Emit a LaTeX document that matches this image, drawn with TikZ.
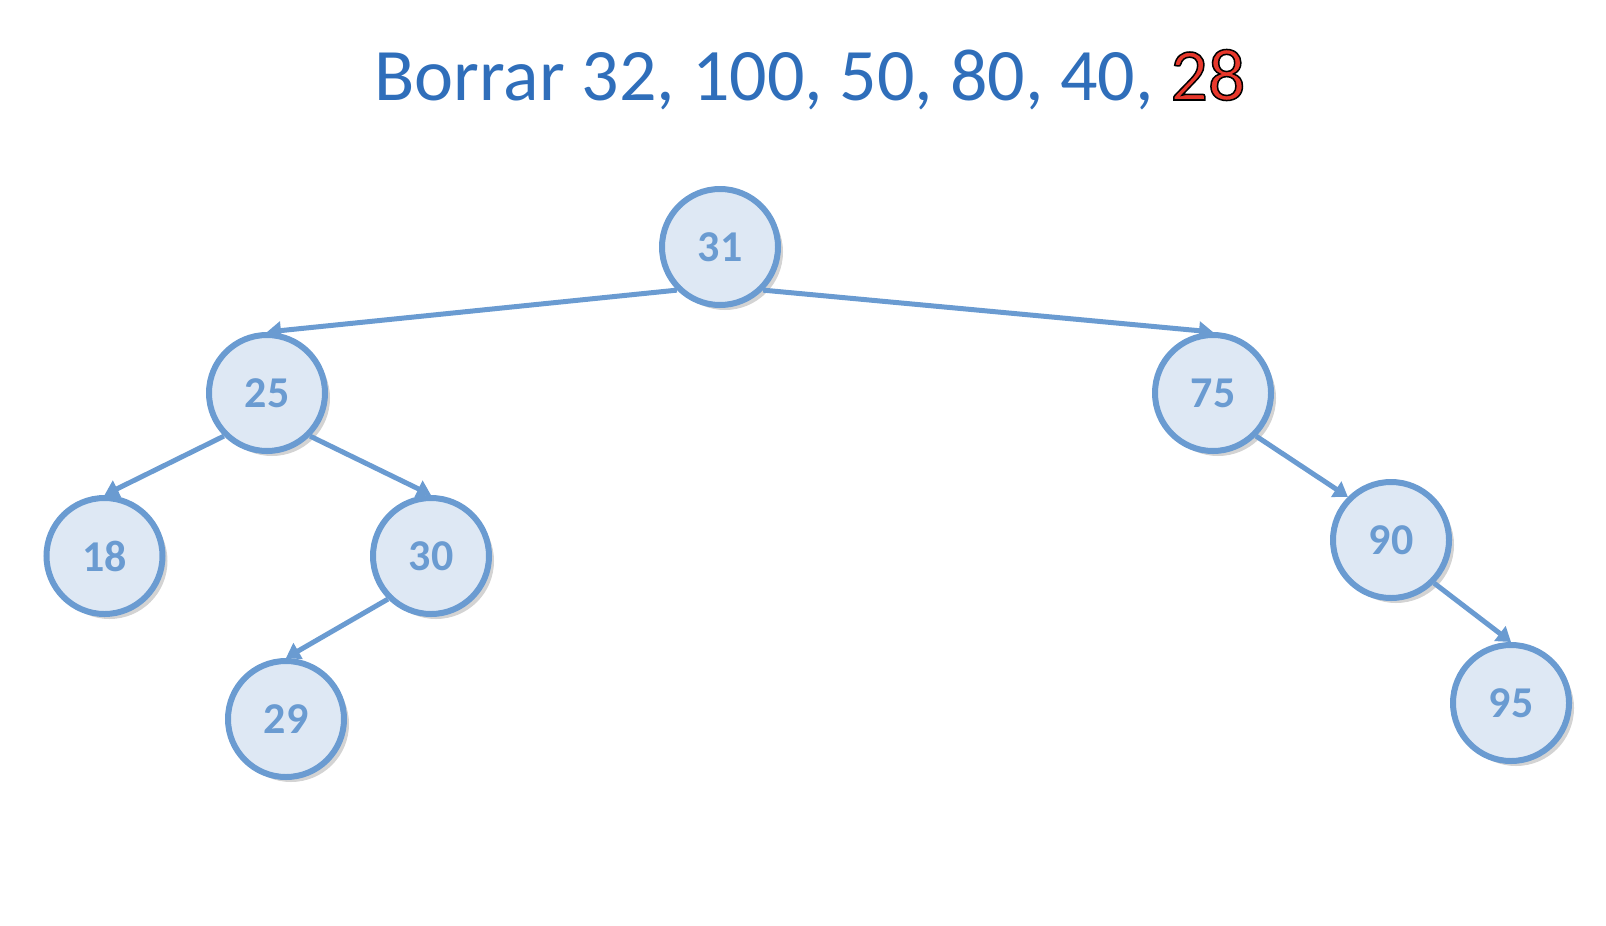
\documentclass[tikz,border=0pt]{standalone}
\usepackage{fontspec}
\setmainfont{Carlito}
\usetikzlibrary{shadows,arrows.meta}
\definecolor{titleblue}{HTML}{2F6EBA}
\definecolor{nodeblue}{HTML}{6A9BD1}
\definecolor{nodefill}{HTML}{DEE8F4}
\definecolor{numred}{HTML}{E8382C}
\tikzset{
  treenode/.style={circle, draw=nodeblue, fill=nodefill, line width=6pt,
    minimum size=116pt, inner sep=0pt, text=nodeblue,
    font=\fontsize{44}{44}\selectfont\bfseries,
    drop shadow={opacity=0.35, shadow xshift=5pt, shadow yshift=-5pt}},
  edge/.style={draw=nodeblue, line width=5pt, -{Triangle[width=18pt,length=14pt]}}
}
\begin{document}
\begin{tikzpicture}[x=1pt,y=-1pt]
\useasboundingbox (0,0) rectangle (1606,926);
\node[anchor=base, text=titleblue, font=\fontsize{74}{74}\selectfont] (title) at (810,100)
  {Borrar 32, 100, 50, 80, 40, \textcolor{numred}{\special{pdf:literal direct 2 Tr 1.5 w 0 0 0 RG}28\special{pdf:literal direct 0 Tr}}};
\node[treenode] (n31) at (720,247) {31};
\node[treenode] (n25) at (267,393) {25};
\node[treenode] (n75) at (1213,393) {75};
\node[treenode] (n18) at (104.5,556) {18};
\node[treenode] (n30) at (431,556) {30};
\node[treenode] (n90) at (1391,540) {90};
\node[treenode] (n29) at (286,719) {29};
\node[treenode] (n95) at (1511,703) {95};
\draw[edge] (n31.south west) -- (n25.north);
\draw[edge] (n31.south east) -- (n75.north);
\draw[edge] (n25.south west) -- (n18.north);
\draw[edge] (n25.south east) -- (n30.north);
\draw[edge] (n30.south west) -- (n29.north);
\draw[edge] (n75.south east) -- (n90.north west);
\draw[edge] (n90.south east) -- (n95.north);
\end{tikzpicture}
\end{document}
